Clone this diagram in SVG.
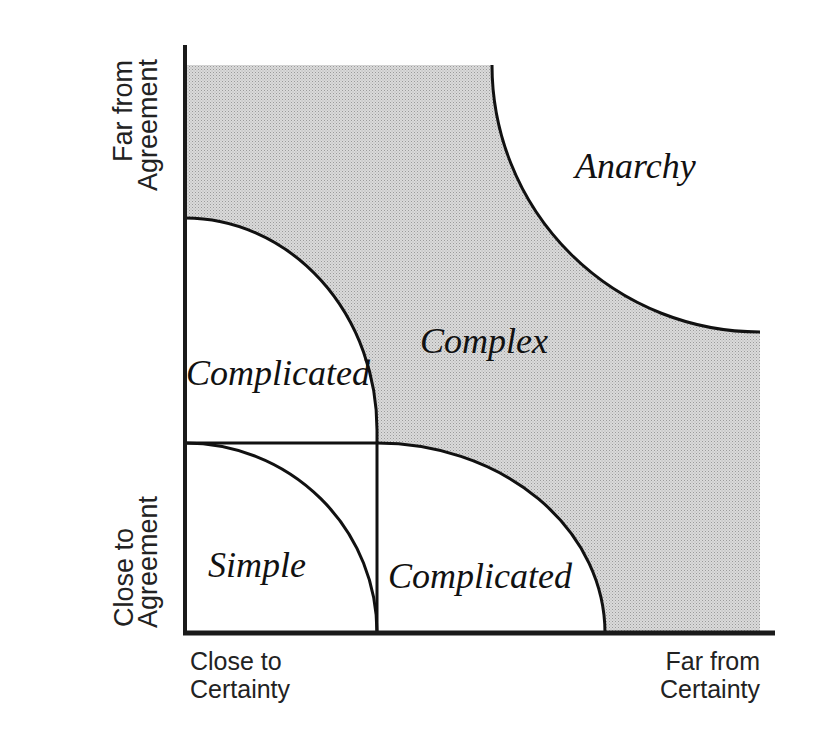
<svg xmlns="http://www.w3.org/2000/svg" width="840" height="742" viewBox="0 0 840 742">
<defs>
<pattern id="stip" width="3" height="3" patternUnits="userSpaceOnUse">
<rect width="3" height="3" fill="#dadada"/>
<rect width="1" height="1" fill="#9a9a9a"/>
<rect x="1.5" y="1.5" width="1" height="1" fill="#b0b0b0"/>
</pattern>
</defs>
<style>
.region{fill:#ffffff;stroke:none}
.curve{fill:none;stroke:#111;stroke-width:3}
.axis{fill:none;stroke:#1a1a1a}
.lbl{font-family:"Liberation Serif","Times New Roman",serif;font-style:italic;font-size:36px;fill:#111}
.ax{font-family:"Liberation Sans",Arial,sans-serif;font-size:27px;fill:#222}
.axb{font-family:"Liberation Sans",Arial,sans-serif;font-size:25px;fill:#222}
</style>
<rect width="840" height="742" fill="#ffffff"/>
<g id="complex-zone">
<rect x="187" y="65" width="573" height="567" fill="url(#stip)"/>
</g>
<g id="anarchy">
<path class="region" d="M492,65 A268,267 0 0 0 760,332 L762,332 L762,63 L492,63 Z"/>
<text class="lbl" x="575" y="178">Anarchy</text>
</g>
<g id="complicated-top">
<path class="region" d="M187,218 A190,212 0 0 1 377,430 L377,443 L187,443 Z"/>
<text class="lbl" x="186" y="385">Complicated</text>
</g>
<g id="lower-zone">
<path class="region" d="M187,443 L377,443 A228,190 0 0 1 605,633 L187,633 Z"/>
</g>
<g id="complex">
<text class="lbl" x="420" y="353">Complex</text>
</g>
<g id="simple">
<text class="lbl" x="208" y="577">Simple</text>
</g>
<g id="complicated-bottom">
<text class="lbl" x="388" y="588">Complicated</text>
</g>
<g id="connectors">
<path class="curve" d="M492,65 A268,267 0 0 0 760,332"/>
<path class="curve" d="M185,218 A192,212 0 0 1 377,430 L377,633"/>
<path class="curve" d="M185,443 L377,443 A228,190 0 0 1 605,633"/>
<path class="curve" d="M185,443 A192,190 0 0 1 377,633"/>
<line class="axis" x1="185" y1="45" x2="185" y2="635" stroke-width="4"/>
<line class="axis" x1="183" y1="633" x2="775" y2="633" stroke-width="5"/>
</g>
<g id="axis-labels">
<text class="ax" transform="translate(132,111) rotate(-90)" text-anchor="middle">Far from</text>
<text class="ax" transform="translate(157,125) rotate(-90)" text-anchor="middle">Agreement</text>
<text class="ax" transform="translate(133,627) rotate(-90)">Close to</text>
<text class="ax" transform="translate(157,628) rotate(-90)">Agreement</text>
<text class="axb" x="190" y="670">Close to</text>
<text class="axb" x="190" y="698">Certainty</text>
<text class="axb" x="760" y="670" text-anchor="end">Far from</text>
<text class="axb" x="760" y="698" text-anchor="end">Certainty</text>
</g>
</svg>
